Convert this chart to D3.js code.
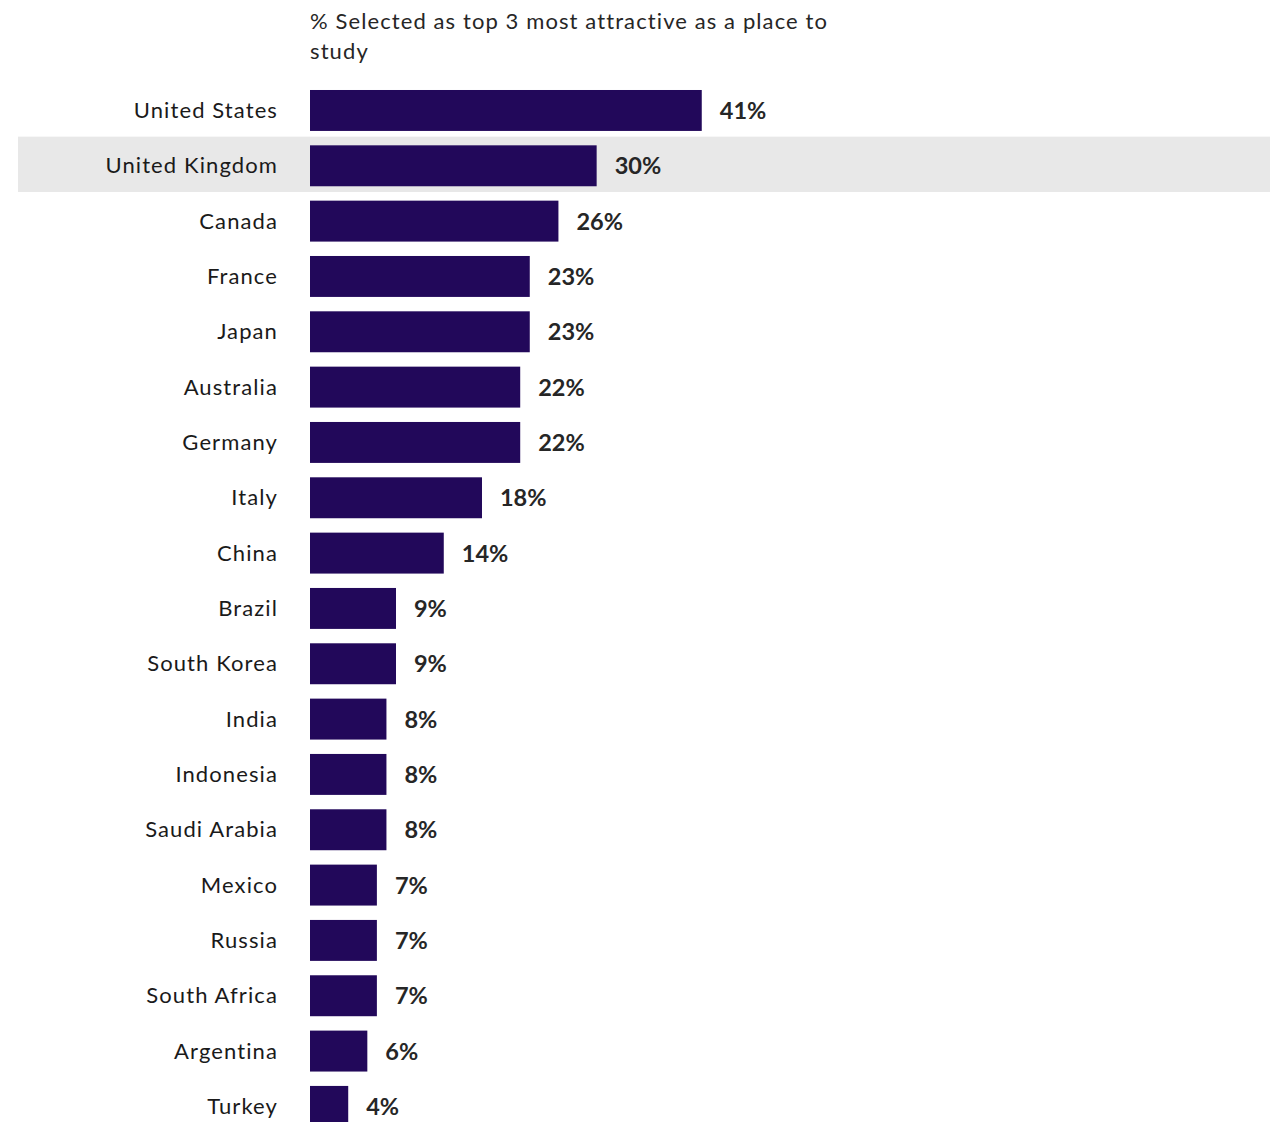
<!DOCTYPE html>
<html><head><meta charset="utf-8">
<script src="https://cdn.jsdelivr.net/npm/d3@7"></script>
<style>html,body{margin:0;padding:0;background:#fff;} svg{display:block;}</style>
</head><body>
<script>
const categories = ["United States","United Kingdom","Canada","France","Japan","Australia","Germany","Italy","China","Brazil","South Korea","India","Indonesia","Saudi Arabia","Mexico","Russia","South Africa","Argentina","Turkey"];
const values = [41,30,26,23,23,22,22,18,14,9,9,8,8,8,7,7,7,6,4];
const titleLines = ["% Selected  as top 3 most attractive as a place to","study"];
const highlighted = "United Kingdom";

const W = 1281, H = 1122;
const svg = d3.select("body").append("svg").attr("width", W).attr("height", H);
const font = "Lato, 'Open Sans', sans-serif";

const x = d3.scaleLinear().domain([0, 100]).range([310, 310 + 955.5]);
const y = d3.scaleBand().domain(categories).range([82.8, 82.8 + 19 * 55.33]).paddingInner(0.26).paddingOuter(0.13);
const gap = y.step() - y.bandwidth();

// highlight band
svg.append("rect")
  .attr("x", 18).attr("width", 1270 - 18)
  .attr("y", y(highlighted) - gap / 2 - 1.5).attr("height", y.step())
  .attr("fill", "#e8e8e8");

// title
svg.append("text").attr("x", 310).attr("y", 29)
  .attr("font-family", font).attr("font-size", 22).attr("letter-spacing", 1.1).attr("fill", "#262626")
  .selectAll("tspan").data(titleLines).join("tspan")
  .attr("x", 310).attr("dy", (d, i) => i === 0 ? 0 : 30).text(d => d);

// bars
svg.append("g").selectAll("rect").data(categories).join("rect")
  .attr("x", x(0)).attr("y", d => y(d))
  .attr("width", (d, i) => x(values[i]) - x(0))
  .attr("height", y.bandwidth())
  .attr("fill", "#22085a");

// category labels
svg.append("g").selectAll("text").data(categories).join("text")
  .attr("x", 278).attr("y", d => y(d) + y.bandwidth() / 2)
  .attr("dy", "0.35em").attr("text-anchor", "end")
  .attr("font-family", font).attr("font-size", 22).attr("letter-spacing", 1.1)
  .attr("fill", "#1a1a1a").text(d => d);

// value labels
svg.append("g").selectAll("text").data(categories).join("text")
  .attr("x", (d, i) => x(values[i]) + 18).attr("y", d => y(d) + y.bandwidth() / 2)
  .attr("dy", "0.36em")
  .attr("font-family", font).attr("font-size", 23.5).attr("font-weight", "bold")
  .attr("fill", "#262626").text((d, i) => values[i] + "%");
</script>
</body></html>
